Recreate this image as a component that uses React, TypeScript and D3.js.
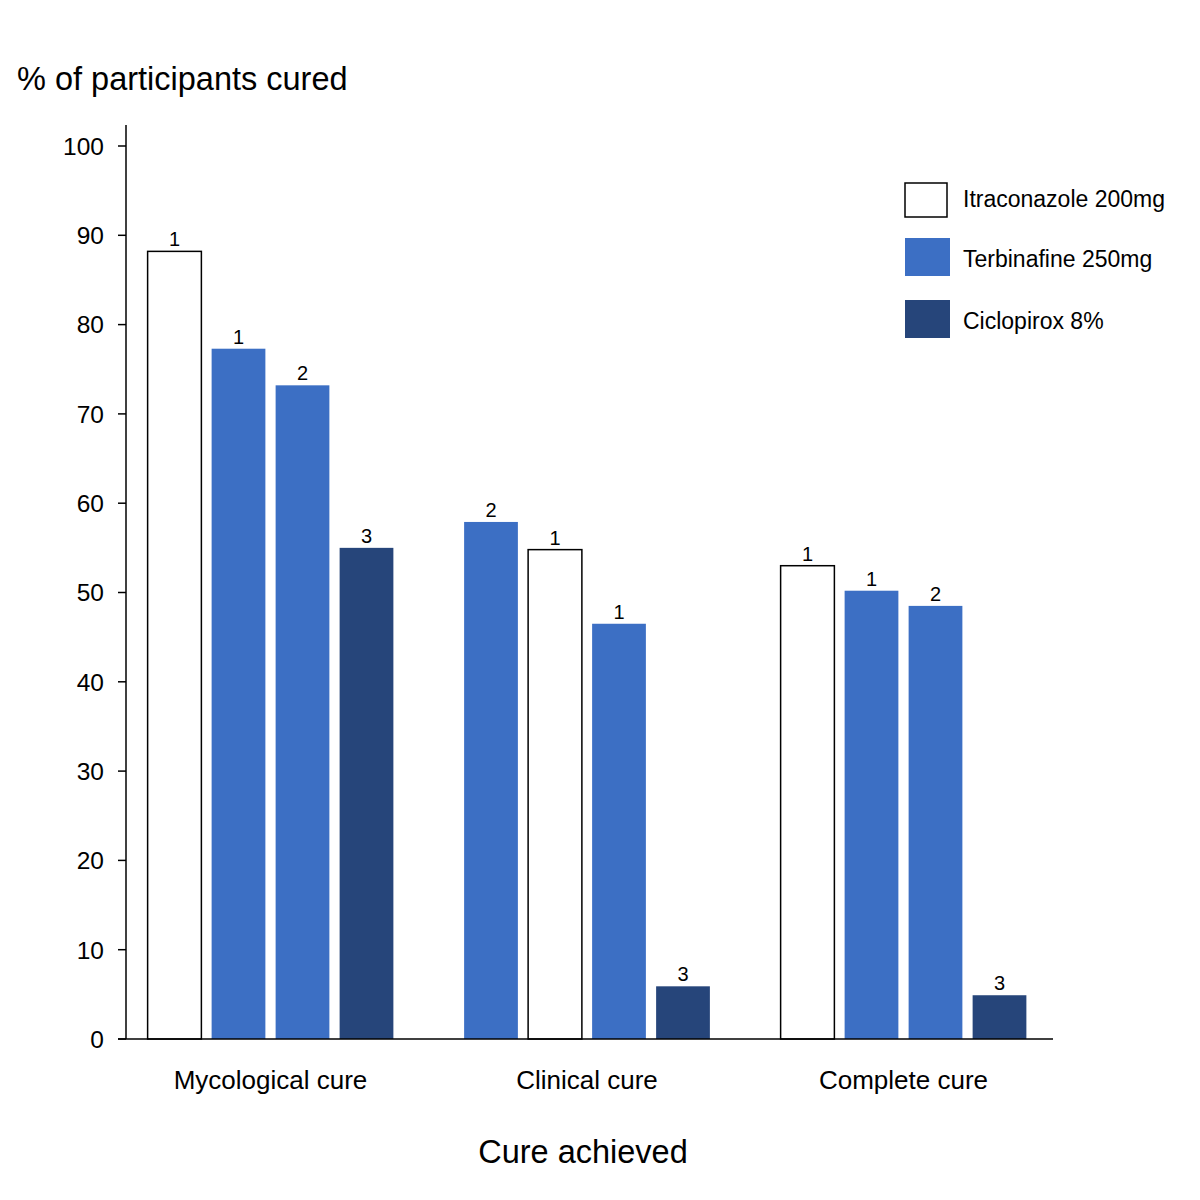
import React from "react";
import * as d3 from "d3";

const categories = ["Mycological cure", "Clinical cure", "Complete cure"];
const drugs = ["Itraconazole 200mg", "Terbinafine 250mg", "Ciclopirox 8%"];
// per category, 4 bars: drug index, value (%), study reference number
const barDrug = [
  [0, 1, 1, 2],
  [1, 0, 1, 2],
  [0, 1, 1, 2],
];
const barValue = [
  [88.2, 77.3, 73.2, 55.0],
  [57.9, 54.8, 46.5, 5.9],
  [53.0, 50.2, 48.5, 4.9],
];
const barRef = [
  [1, 1, 2, 3],
  [2, 1, 1, 3],
  [1, 1, 2, 3],
];
const yTicks = [0, 10, 20, 30, 40, 50, 60, 70, 80, 90, 100];

const FILL = ["#ffffff", "#3c6fc4", "#26457a"];
const FONT = "'Liberation Sans', Arial, sans-serif";

export default function App() {
  const W = 1200, H = 1200;
  const y = d3.scaleLinear().domain([0, 100]).range([1039, 146]);
  const x0 = d3.scaleBand<string>().domain(categories).range([112.25, 1061.75]).padding(0);
  const groupW = 256;
  const x1 = d3.scaleBand<number>().domain([0, 1, 2, 3]).range([0, groupW]).paddingInner(0.16).paddingOuter(0.08);

  return (
    <svg width={W} height={H} style={{ display: "block", margin: "-8px", background: "#fff" }} fontFamily={FONT}>
      <rect width={W} height={H} fill="#fff" />
      <text x={17} y={90} fontSize={32.5} fill="#000">% of participants cured</text>

      {/* y axis */}
      <line x1={126} x2={126} y1={125} y2={1039} stroke="#000" strokeWidth={1.5} />
      {yTicks.map((t) => (
        <g key={t}>
          <line x1={118} x2={126} y1={y(t)} y2={y(t)} stroke="#000" strokeWidth={1.5} />
          <text x={104} y={y(t)} dy="0.36em" textAnchor="end" fontSize={24.5} fill="#000">{t}</text>
        </g>
      ))}

      {/* bars */}
      {categories.map((c, gi) => {
        const gx = x0(c)! + x0.bandwidth() / 2 - groupW / 2;
        return (
          <g key={c} transform={`translate(${gx},0)`}>
            {barValue[gi].map((v, bi) => {
              const d = barDrug[gi][bi];
              const bx = x1(bi)!;
              const bw = x1.bandwidth();
              return (
                <g key={bi}>
                  <rect
                    x={bx}
                    y={y(v)}
                    width={bw}
                    height={y(0) - y(v)}
                    fill={FILL[d]}
                    stroke={d === 0 ? "#000" : "none"}
                    strokeWidth={1.5}
                  />
                  <text x={bx + bw / 2} y={y(v) - 5} textAnchor="middle" fontSize={20} fill="#000">
                    {barRef[gi][bi]}
                  </text>
                </g>
              );
            })}
          </g>
        );
      })}

      {/* x axis */}
      <line x1={118} x2={1053} y1={1039} y2={1039} stroke="#000" strokeWidth={1.5} />
      {categories.map((c) => (
        <text key={c} x={x0(c)! + x0.bandwidth() / 2} y={1089} textAnchor="middle" fontSize={26} fill="#000">{c}</text>
      ))}
      <text x={583} y={1163} textAnchor="middle" fontSize={32.5} fill="#000">Cure achieved</text>

      {/* legend */}
      {drugs.map((dname, i) => {
        const ly = [183, 238, 300][i];
        return (
          <g key={dname}>
            <rect x={905} y={ly} width={i === 0 ? 42 : 45} height={i === 0 ? 34 : 38}
              fill={FILL[i]} stroke={i === 0 ? "#000" : "none"} strokeWidth={1.5} />
            <text x={963} y={ly + 24 + (i === 0 ? 0 : 5)} fontSize={23} fill="#000">{dname}</text>
          </g>
        );
      })}
    </svg>
  );
}
